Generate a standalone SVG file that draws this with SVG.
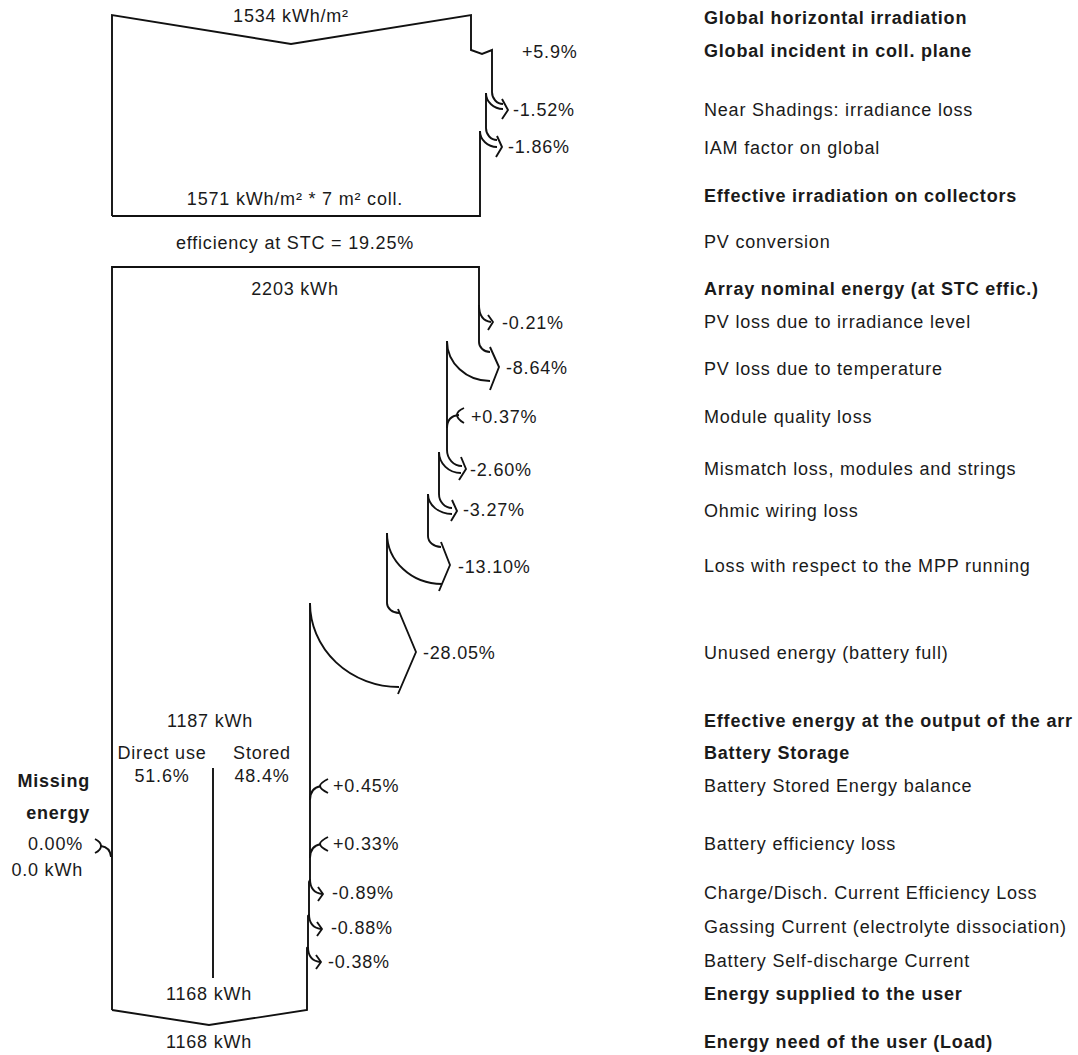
<svg xmlns="http://www.w3.org/2000/svg" width="1078" height="1055" viewBox="0 0 1078 1055">
  <style>
    .flow { fill: none; stroke: #111; stroke-width: 1.9; stroke-linejoin: miter; }
    .arr { fill: none; stroke: #111; stroke-width: 1.9; stroke-linejoin: round; stroke-linecap: butt; }
    text { font-family: "Liberation Sans", Arial, sans-serif; font-size: 18px; fill: #1a1a1a; letter-spacing: 0.8px; }
    .b { font-weight: bold; }
    .c { text-anchor: middle; }
    .e { text-anchor: end; }
  </style>
  <rect width="1078" height="1055" fill="#ffffff"/>

  <!-- Irradiation block: horizontal -> incident -> effective -->
  <g id="irradiation-box">
    <path class="flow" d="M112,216 V15 L291,44 L471,15 V50 L482,54 L492,50 V92 A11 12 0 0 0 503,104"/>
    <path class="flow" d="M486,93 A17 16 0 0 0 503,109"/>
    <path class="flow" d="M486,93 V128 A11 12 0 0 0 497,140"/>
    <path class="flow" d="M480,131 A17 16 0 0 0 497,147"/>
    <path class="flow" d="M480,131 V216 H112"/>
    <text class="c" x="291" y="22">1534 kWh/m²</text>
    <text class="c" x="295" y="205">1571 kWh/m² * 7 m² coll.</text>
  </g>

  <text id="pv-conversion" class="c" x="295" y="249">efficiency at STC = 19.25%</text>

  <!-- Array energy block with PV losses -->
  <g id="array-box">
    <path class="flow" d="M112,1010 V267 H479 V342 A11 10 0 0 0 490,352"/>
    <path class="flow" d="M447,341 A43 40 0 0 0 490,381"/>
    <path class="flow" d="M447,341 V450 A15 16 0 0 0 462,466"/>
    <path class="flow" d="M439,452 A22 21 0 0 0 461,473"/>
    <path class="flow" d="M439,452 V494 A13 14 0 0 0 452,508"/>
    <path class="flow" d="M428,494 A24 20 0 0 0 452,514"/>
    <path class="flow" d="M428,494 V536 A13 11 0 0 0 441,547"/>
    <path class="flow" d="M387,533 A55 51 0 0 0 442,584"/>
    <path class="flow" d="M387,533 V603 A12 10 0 0 0 399,613"/>
    <path class="flow" d="M310,603 A89 84 0 0 0 399,687"/>
    <text class="c" x="295" y="295">2203 kWh</text>
  </g>

  <!-- Battery storage and user block -->
  <g id="battery-section">
    <path class="flow" d="M310,603 V880 L309,882 V915 L308,916 V947 L307,948 V1010 L209,1025 L112,1010"/>
    <path class="flow" d="M213,768 V978"/>
    <text class="c" x="210" y="727">1187 kWh</text>
    <text class="c" x="162" y="759">Direct use</text>
    <text class="c" x="162" y="782">51.6%</text>
    <text class="c" x="262" y="759">Stored</text>
    <text class="c" x="262" y="782">48.4%</text>
    <text class="c" x="209" y="1000">1168 kWh</text>
    <text class="c" x="209" y="1048">1168 kWh</text>
  </g>

  <!-- Missing energy -->
  <g id="missing-energy">
    <path class="arr" d="M95,839 Q101,842 101,846 Q101,850 95,853"/>
    <path class="arr" d="M101,846 Q110,847 111,857"/>
    <text class="b e" x="90" y="787">Missing</text>
    <text class="b e" x="90" y="819">energy</text>
    <text class="e" x="83" y="850">0.00%</text>
    <text class="e" x="83" y="876">0.0 kWh</text>
  </g>

  <!-- Loss / gain arrow heads -->
  <g id="connectors">
    <path class="arr" d="M502,99 L508,110 L502,119"/>
    <path class="arr" d="M497,136 L502,147 L496,157"/>
    <path class="arr" d="M479,305 C479,315 483,321 491,322"/>
    <path class="arr" d="M488,315 L493,322 L488,330"/>
    <path class="arr" d="M490,347 L499,367 L490,390"/>
    <path class="arr" d="M447,428 Q447,416 459,415"/>
    <path class="arr" d="M464,408 Q457,411 457,415 Q457,419 464,423"/>
    <path class="arr" d="M461,457 L466,469 L459,480"/>
    <path class="arr" d="M452,500 L457,511 L451,521"/>
    <path class="arr" d="M441,542 L450,565 L439,591"/>
    <path class="arr" d="M398,609 L416,652 L398,694"/>
    <path class="arr" d="M310,800 Q310,788 321,786"/>
    <path class="arr" d="M328,779 Q320,783 320,786 Q320,789 328,793"/>
    <path class="arr" d="M310,858 Q310,846 321,844"/>
    <path class="arr" d="M328,837 Q320,841 320,844 Q320,847 328,851"/>
    <path class="arr" d="M310,879 C310,888 314,893 322,894"/>
    <path class="arr" d="M318,887 L323,894 L318,901"/>
    <path class="arr" d="M309,914 C309,923 313,928 321,929"/>
    <path class="arr" d="M317,922 L322,929 L317,936"/>
    <path class="arr" d="M308,947 C308,956 312,961 320,962"/>
    <path class="arr" d="M316,955 L321,962 L316,969"/>
  </g>

  <!-- Percentages beside the arrows -->
  <g id="percent-labels">
    <text x="522" y="58">+5.9%</text>
    <text x="513" y="116">-1.52%</text>
    <text x="508" y="153">-1.86%</text>
    <text x="502" y="329">-0.21%</text>
    <text x="506" y="374">-8.64%</text>
    <text x="471" y="423">+0.37%</text>
    <text x="470" y="476">-2.60%</text>
    <text x="463" y="516">-3.27%</text>
    <text x="458" y="573">-13.10%</text>
    <text x="423" y="659">-28.05%</text>
    <text x="333" y="792">+0.45%</text>
    <text x="333" y="850">+0.33%</text>
    <text x="332" y="899">-0.89%</text>
    <text x="331" y="934">-0.88%</text>
    <text x="328" y="968">-0.38%</text>
  </g>

  <!-- Step descriptions -->
  <g id="step-labels">
    <text class="b" x="704" y="24">Global horizontal irradiation</text>
    <text class="b" x="704" y="57">Global incident in coll. plane</text>
    <text x="704" y="116">Near Shadings: irradiance loss</text>
    <text x="704" y="154">IAM factor on global</text>
    <text class="b" x="704" y="202">Effective irradiation on collectors</text>
    <text x="704" y="248">PV conversion</text>
    <text class="b" x="704" y="295">Array nominal energy (at STC effic.)</text>
    <text x="704" y="328">PV loss due to irradiance level</text>
    <text x="704" y="375">PV loss due to temperature</text>
    <text x="704" y="423">Module quality loss</text>
    <text x="704" y="475">Mismatch loss, modules and strings</text>
    <text x="704" y="517">Ohmic wiring loss</text>
    <text x="704" y="572">Loss with respect to the MPP running</text>
    <text x="704" y="659">Unused energy (battery full)</text>
    <text class="b" x="704" y="727">Effective energy at the output of the arr</text>
    <text class="b" x="704" y="759">Battery Storage</text>
    <text x="704" y="792">Battery Stored Energy balance</text>
    <text x="704" y="850">Battery efficiency loss</text>
    <text x="704" y="899">Charge/Disch. Current Efficiency Loss</text>
    <text x="704" y="933">Gassing Current (electrolyte dissociation)</text>
    <text x="704" y="967">Battery Self-discharge Current</text>
    <text class="b" x="704" y="1000">Energy supplied to the user</text>
    <text class="b" x="704" y="1048">Energy need of the user (Load)</text>
  </g>
</svg>
